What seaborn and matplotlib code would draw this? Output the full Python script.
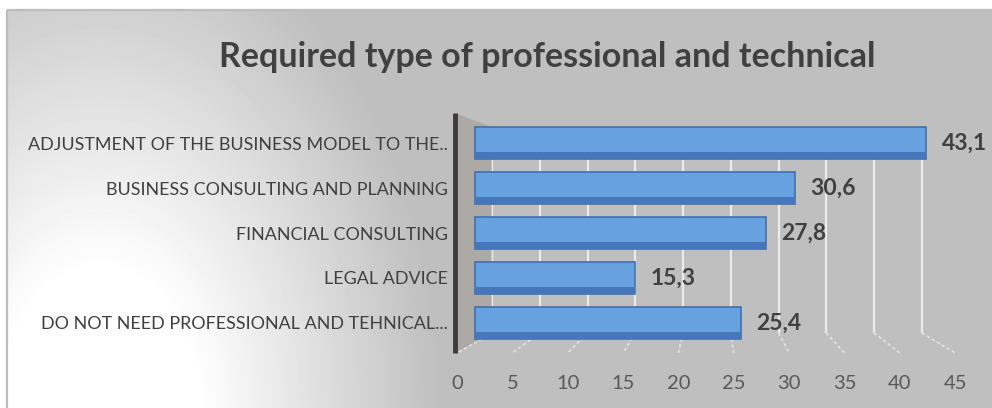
import numpy as np
import pandas as pd
import matplotlib
matplotlib.use("Agg")
import matplotlib.pyplot as plt
from matplotlib.patches import Rectangle, Polygon
import seaborn as sns

# Survey answers (share of respondents, %)
categories = [
    "ADJUSTMENT OF THE BUSINESS MODEL TO THE..",
    "BUSINESS CONSULTING AND PLANNING",
    "FINANCIAL CONSULTING",
    "LEGAL ADVICE",
    "DO NOT NEED PROFESSIONAL AND TEHNICAL...",
]
values = [43.1, 30.6, 27.8, 15.3, 25.4]
tick_values = [0, 5, 10, 15, 20, 25, 30, 35, 40, 45]
title = "Required type of professional and technical"

sns.set_theme(style="white")
plt.rcParams["font.family"] = ["Lato", "DejaVu Sans"]

W, H = 992, 408
fig = plt.figure(figsize=(W / 100, H / 100), dpi=100)
fig.patch.set_facecolor("white")

# ---- chart-area background: radial light-to-grey fill from the lower left
bg = fig.add_axes([0, 0, 1, 1])
bg.set_xlim(0, W)
bg.set_ylim(H, 0)
bg.axis("off")
x0, y0 = 7, 10
xs = np.arange(x0, W) + 0.5
ys = np.arange(y0, H) + 0.5
XX, YY = np.meshgrid(xs, ys)
r = np.sqrt(((XX - 100) / 400.0) ** 2 + ((YY - 420) / 600.0) ** 2)
t = np.clip((r - 0.25) / 0.6, 0, 1)
shade = 1.0 - t * (1.0 - 191 / 255)
bg.imshow(shade, cmap="gray", vmin=0, vmax=1, extent=(x0, W, H, y0),
          interpolation="bilinear", aspect="auto")
bg.add_patch(Rectangle((x0, y0), W - x0 + 5, H - y0 + 5, fill=False,
                       edgecolor="#bdbdbd", linewidth=1.6))

fig.text(547 / W, 1 - 57 / H, title, ha="center", va="center",
         fontsize=24.5, fontweight="bold", color="#404040")

# ---- plot area
ax = fig.add_axes([455 / W, 55 / H, 505 / W, 240 / H])
ax.patch.set_alpha(0)

df = pd.DataFrame({"category": categories, "value": values})

# perspective planes of the 3-D box, expressed in bar units
def back_plane(w):
    return (17 + 9.55 * np.asarray(w, dtype=float)) / 10.47

def front_plane(w):
    return (-18 + 11.07 * np.asarray(w, dtype=float)) / 10.47

def from_front(v):
    return (10.47 * np.asarray(v, dtype=float) + 18) / 11.07

XL = (-1.91, 46.32)
YL = (4.667, -0.667)
floor_back, floor_front, wall_top = 4.22, 4.667, -0.356

sns.barplot(data=df, x="value", y="category", orient="h", ax=ax,
            color="#68a1e0", saturation=1, width=0.73,
            edgecolor="#3f70b0", linewidth=1.2, zorder=3)
bars = [p for p in ax.patches if isinstance(p, Rectangle)]

# darker lower face on each bar
for p in bars:
    bx, by, bw, bh = p.get_x(), p.get_y(), p.get_width(), p.get_height()
    ax.add_patch(Rectangle((bx, by + bh * 0.76), bw, bh * 0.24,
                           facecolor="#4677ba", edgecolor="none", zorder=4))

# back-wall gridlines and floor lines
for w in tick_values:
    bx, fx = float(back_plane(w)), float(front_plane(w))
    ax.plot([bx, bx], [wall_top, floor_back], color="#ececec", lw=1.6, zorder=1,
            solid_capstyle="butt")
    ax.plot([bx, fx], [floor_back, floor_front], color="#e4e4e4", lw=1.2,
            ls=(0, (2, 1.5)), zorder=1, clip_on=False)

# side wall
wall = Polygon([(XL[0], YL[1]), (float(back_plane(0)), wall_top),
                (float(back_plane(0)), floor_back), (XL[0], YL[0])],
               closed=True, facecolor="#9c978f", edgecolor="none", alpha=0.5,
               zorder=2)
ax.add_patch(wall)
ax.plot([XL[0], XL[0]], [YL[1], YL[0]], color="#3b3b3b", lw=3.5, zorder=6,
        solid_capstyle="butt", clip_on=False)

for i, v in enumerate(values):
    ax.text(v + 1.45, i, f"{v:.1f}".replace(".", ","), ha="left", va="center",
            fontsize=16.5, fontweight="bold", color="#404040", zorder=7)

ax.set_xlim(*XL)
ax.set_ylim(*YL)
ax.set_xlabel("")
ax.set_ylabel("")
for s in ax.spines.values():
    s.set_visible(False)
ax.set_xticks([])
ax.tick_params(axis="y", length=0, pad=5, labelsize=12.9, labelcolor="#404040")

sec = ax.secondary_xaxis("bottom", functions=(from_front, front_plane))
sec.set_xticks(tick_values)
sec.set_xticklabels([str(v) for v in tick_values])
sec.tick_params(length=0, pad=16, labelsize=14.5, labelcolor="#595959")
sec.spines["bottom"].set_visible(False)

fig.savefig("out.png", dpi=100)
